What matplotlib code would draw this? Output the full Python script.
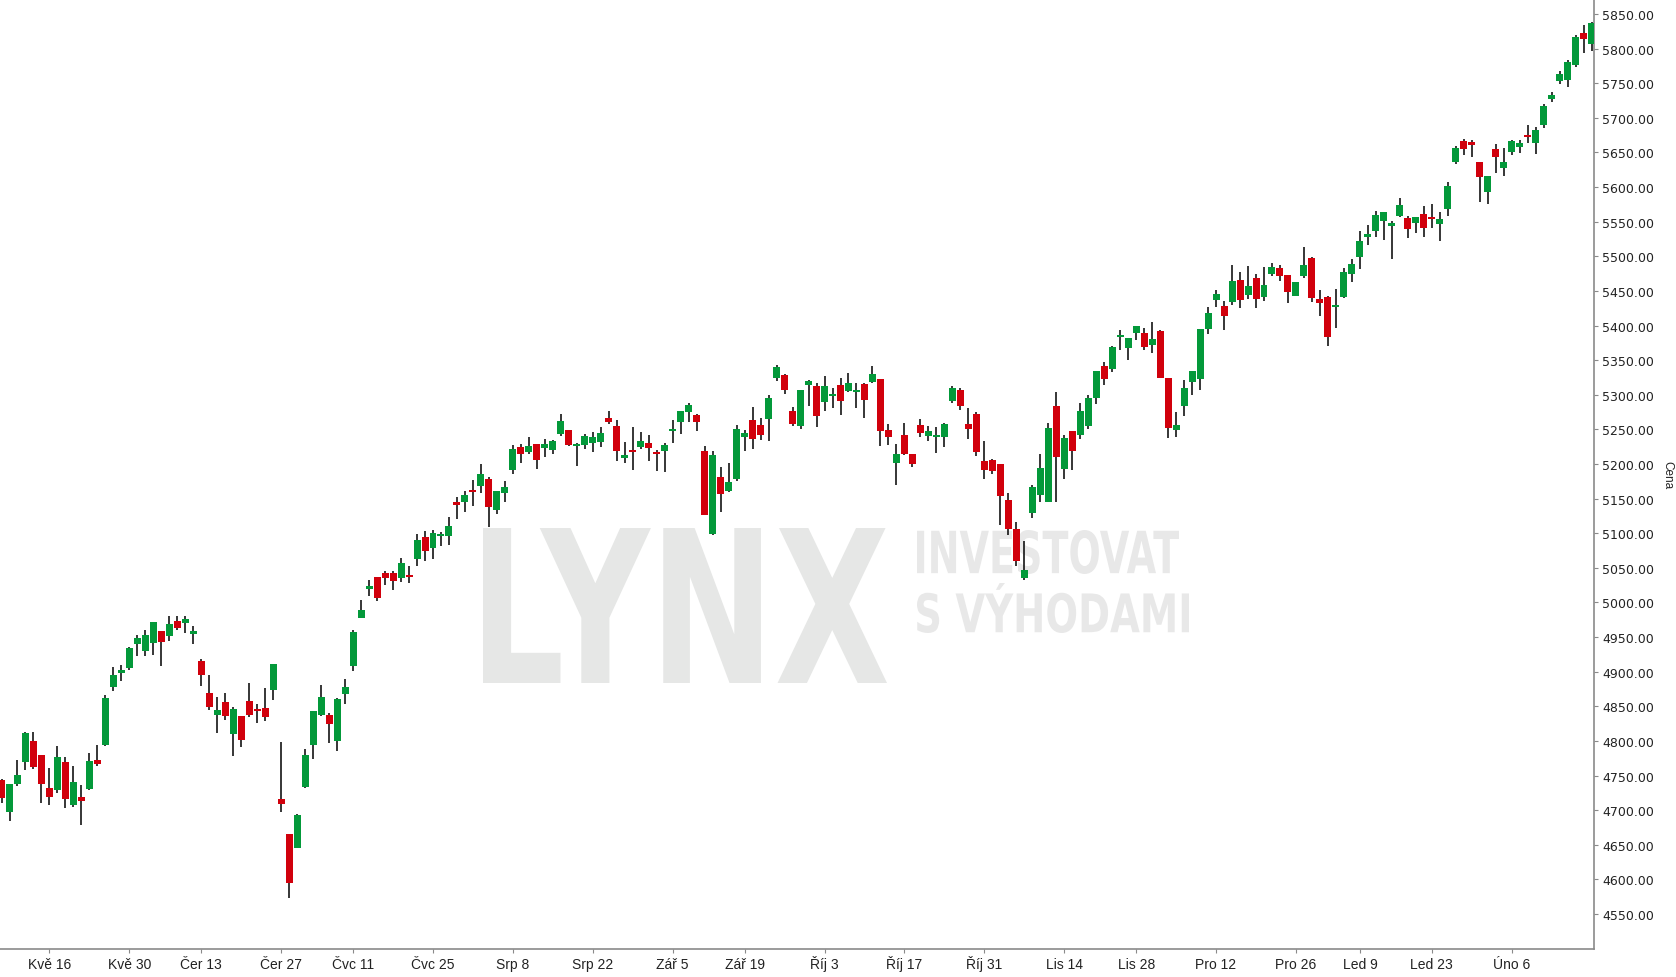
import matplotlib
matplotlib.use("Agg")
import matplotlib.pyplot as plt
from matplotlib.textpath import TextPath
from matplotlib.patches import PathPatch
from matplotlib.font_manager import FontProperties
from matplotlib.transforms import Affine2D
import numpy as np

# daily candles, oldest first
opens = [4743.6, 4697.8, 4738.3, 4770.0, 4799.9, 4779.7, 4732.0, 4729.6, 4769.6, 4707.9,
         4719.0, 4731.0, 4772.4, 4794.6, 4878.4, 4898.6, 4905.8, 4940.0, 4930.4, 4941.9,
         4958.8, 4952.0, 4973.2, 4970.8, 4954.9, 4915.5, 4869.2, 4837.9, 4856.2, 4810.5,
         4836.0, 4857.7, 4846.1, 4847.6, 4874.1, 4716.1, 4665.6, 4645.8, 4733.9, 4794.6,
         4837.9, 4837.5, 4800.4, 4868.3, 4908.7, 4978.1, 5019.9, 5036.8, 5042.6, 5042.6,
         5035.8, 5039.7, 5063.3, 5094.6, 5079.2, 5096.5, 5096.5, 5145.1, 5145.6, 5162.5,
         5168.7, 5178.3, 5134.1, 5158.6, 5191.8, 5224.6, 5217.8, 5228.9, 5223.6, 5220.7,
         5243.8, 5249.1, 5226.5, 5227.9, 5230.8, 5232.2, 5266.4, 5254.9, 5209.1, 5220.7,
         5225.0, 5230.3, 5217.3, 5219.2, 5248.1, 5261.1, 5275.6, 5270.8, 5218.8, 5099.3,
         5181.2, 5161.0, 5178.8, 5239.0, 5263.5, 5256.3, 5265.5, 5324.7, 5328.5, 5276.5,
         5255.4, 5314.6, 5312.7, 5290.0, 5298.7, 5314.1, 5305.9, 5304.5, 5315.5, 5318.9,
         5322.8, 5249.1, 5201.9, 5241.9, 5214.4, 5256.3, 5240.9, 5239.5, 5239.5, 5291.5,
         5306.9, 5257.8, 5272.2, 5204.3, 5205.8, 5200.0, 5148.0, 5106.1, 5035.8, 5129.7,
         5155.7, 5145.6, 5283.8, 5193.2, 5247.7, 5242.3, 5255.3, 5295.8, 5341.5, 5337.7,
         5383.9, 5368.0, 5389.7, 5389.2, 5372.3, 5392.1, 5324.2, 5249.6, 5284.2, 5318.9,
         5323.2, 5395.4, 5437.3, 5428.2, 5434.4, 5465.7, 5444.5, 5468.6, 5441.7, 5474.9,
         5483.1, 5473.0, 5443.1, 5472.0, 5497.5, 5438.3, 5441.2, 5427.2, 5441.7, 5474.9,
         5499.4, 5528.0, 5537.0, 5551.4, 5544.2, 5558.7, 5555.3, 5548.6, 5561.1, 5556.7,
         5547.1, 5568.8, 5636.7, 5666.5, 5665.1, 5636.2, 5593.3, 5655.0, 5628.0, 5651.1,
         5658.3, 5675.2, 5664.1, 5690.0, 5727.0, 5753.0, 5755.0, 5776.0, 5822.0, 5806.0]

highs = [4745.0, 4737.8, 4772.4, 4812.4, 4812.9, 4779.7, 4760.9, 4792.7, 4776.8, 4763.8,
         4736.3, 4782.6, 4794.1, 4866.3, 4906.8, 4909.7, 4935.0, 4953.0, 4960.2, 4971.8,
         4958.8, 4980.5, 4980.5, 4980.5, 4966.0, 4918.3, 4895.2, 4863.5, 4869.2, 4849.0,
         4836.0, 4883.7, 4853.3, 4876.5, 4911.1, 4798.5, 4665.6, 4694.5, 4788.3, 4843.2,
         4880.8, 4840.3, 4862.0, 4889.5, 4960.2, 5003.6, 5032.5, 5036.8, 5045.5, 5045.5,
         5064.2, 5052.7, 5098.9, 5103.2, 5104.7, 5101.8, 5123.5, 5152.3, 5161.0, 5176.9,
         5200.0, 5181.2, 5161.0, 5175.5, 5227.5, 5228.9, 5239.0, 5228.9, 5236.1, 5234.6,
         5272.2, 5249.1, 5230.3, 5243.3, 5246.2, 5253.4, 5276.5, 5263.5, 5231.8, 5253.4,
         5246.2, 5241.9, 5220.2, 5230.3, 5263.5, 5276.5, 5288.1, 5272.2, 5226.0, 5218.8,
         5195.6, 5201.4, 5256.3, 5249.1, 5282.3, 5266.4, 5299.7, 5343.0, 5330.0, 5282.3,
         5306.9, 5321.3, 5317.0, 5327.1, 5309.8, 5324.2, 5331.4, 5317.0, 5317.0, 5341.5,
         5322.8, 5257.8, 5228.9, 5259.2, 5214.4, 5265.0, 5254.9, 5253.4, 5259.2, 5312.7,
         5309.8, 5280.9, 5275.1, 5233.2, 5207.2, 5200.0, 5158.1, 5116.2, 5088.7, 5169.6,
         5214.4, 5259.2, 5304.0, 5241.9, 5247.7, 5288.1, 5299.6, 5334.3, 5347.3, 5370.4,
         5393.5, 5382.0, 5399.3, 5396.4, 5405.1, 5393.5, 5324.2, 5275.1, 5321.3, 5334.3,
         5395.0, 5426.7, 5451.3, 5435.4, 5487.4, 5477.3, 5486.0, 5474.4, 5484.5, 5490.3,
         5487.4, 5473.0, 5462.8, 5513.4, 5499.0, 5451.3, 5442.6, 5452.7, 5483.1, 5496.1,
         5536.5, 5545.0, 5565.0, 5564.0, 5551.0, 5584.2, 5558.2, 5556.7, 5572.6, 5575.5,
         5564.0, 5607.3, 5659.3, 5669.4, 5668.0, 5636.2, 5616.0, 5662.2, 5656.4, 5668.0,
         5668.0, 5689.6, 5686.7, 5720.0, 5737.0, 5768.0, 5783.0, 5820.0, 5834.0, 5839.0]

lows = [4710.0, 4684.8, 4735.4, 4758.5, 4759.9, 4710.8, 4707.9, 4725.3, 4703.6, 4705.0,
        4679.0, 4729.6, 4764.3, 4793.2, 4872.6, 4887.0, 4903.0, 4923.2, 4923.2, 4924.6,
        4908.7, 4944.8, 4960.7, 4956.4, 4940.5, 4879.8, 4845.2, 4811.9, 4830.7, 4778.7,
        4791.7, 4835.1, 4826.4, 4829.3, 4859.6, 4697.8, 4573.6, 4645.8, 4732.5, 4774.4,
        4836.5, 4797.5, 4785.9, 4853.3, 4901.5, 4978.1, 5009.8, 5002.6, 5025.7, 5018.5,
        5030.0, 5028.6, 5053.2, 5060.4, 5063.3, 5082.0, 5083.5, 5121.1, 5131.2, 5139.8,
        5158.6, 5109.5, 5128.3, 5145.6, 5186.1, 5201.9, 5214.9, 5193.3, 5210.6, 5214.9,
        5240.9, 5226.5, 5197.6, 5222.1, 5217.8, 5225.0, 5257.8, 5204.8, 5201.9, 5191.8,
        5222.1, 5204.8, 5190.3, 5188.9, 5230.8, 5243.8, 5261.1, 5248.1, 5126.8, 5097.9,
        5131.1, 5159.5, 5175.9, 5219.2, 5222.1, 5235.1, 5233.7, 5320.4, 5301.6, 5255.4,
        5251.0, 5284.2, 5253.9, 5277.0, 5281.4, 5271.2, 5304.5, 5281.4, 5266.9, 5317.5,
        5226.5, 5227.9, 5170.1, 5213.5, 5196.1, 5239.5, 5233.7, 5216.4, 5225.0, 5288.6,
        5278.5, 5236.6, 5212.0, 5178.8, 5186.0, 5112.3, 5097.9, 5053.1, 5033.0, 5122.5,
        5145.6, 5145.6, 5145.6, 5178.8, 5191.8, 5236.6, 5251.0, 5287.1, 5314.6, 5333.3,
        5364.6, 5350.7, 5379.6, 5365.1, 5360.8, 5324.7, 5238.0, 5239.4, 5269.8, 5300.1,
        5307.3, 5388.2, 5427.2, 5394.0, 5430.1, 5425.8, 5438.8, 5425.8, 5435.9, 5472.0,
        5464.8, 5433.0, 5443.1, 5469.1, 5434.4, 5414.2, 5370.9, 5396.9, 5440.2, 5463.3,
        5482.1, 5517.0, 5528.0, 5524.0, 5496.6, 5557.2, 5526.9, 5534.1, 5528.3, 5541.3,
        5522.6, 5558.7, 5633.8, 5646.8, 5643.9, 5578.9, 5576.0, 5620.8, 5616.4, 5646.8,
        5649.7, 5664.1, 5648.2, 5686.0, 5723.0, 5749.0, 5745.0, 5774.0, 5793.0, 5797.0]

closes = [4718.0, 4737.8, 4750.8, 4811.5, 4762.8, 4738.3, 4719.5, 4776.8, 4716.6, 4740.7,
          4713.7, 4771.0, 4767.1, 4862.0, 4895.2, 4902.5, 4934.2, 4948.7, 4953.0, 4971.8,
          4943.4, 4968.9, 4963.6, 4976.1, 4958.8, 4895.7, 4849.5, 4844.7, 4836.5, 4846.1,
          4801.8, 4837.9, 4843.2, 4835.1, 4911.1, 4709.4, 4595.3, 4693.0, 4779.7, 4843.2,
          4863.5, 4824.9, 4860.6, 4877.9, 4957.4, 4989.1, 5023.8, 5006.9, 5035.8, 5031.5,
          5057.0, 5037.3, 5090.2, 5074.8, 5100.3, 5099.4, 5110.5, 5141.3, 5155.2, 5160.1,
          5185.6, 5138.4, 5161.0, 5166.8, 5221.7, 5214.9, 5226.0, 5206.3, 5228.9, 5233.7,
          5262.1, 5227.9, 5228.9, 5240.4, 5239.0, 5244.8, 5260.6, 5219.2, 5213.5, 5217.8,
          5233.2, 5223.6, 5214.9, 5227.4, 5250.5, 5276.5, 5285.2, 5261.1, 5126.8, 5213.0,
          5157.1, 5174.0, 5250.5, 5244.8, 5236.6, 5242.4, 5295.3, 5340.1, 5307.4, 5258.2,
          5306.9, 5319.9, 5269.8, 5312.7, 5301.1, 5291.5, 5317.0, 5306.9, 5292.9, 5330.0,
          5248.1, 5239.5, 5214.4, 5214.9, 5200.5, 5245.2, 5247.7, 5241.9, 5257.8, 5309.8,
          5284.2, 5251.0, 5217.8, 5191.8, 5190.4, 5154.2, 5106.6, 5060.3, 5046.8, 5166.8,
          5194.2, 5252.0, 5210.6, 5237.5, 5219.2, 5276.5, 5295.3, 5334.3, 5323.2, 5369.0,
          5386.3, 5382.0, 5399.3, 5369.4, 5380.5, 5324.7, 5252.4, 5256.3, 5309.7, 5334.3,
          5395.0, 5418.1, 5445.5, 5414.2, 5464.3, 5437.3, 5457.1, 5438.8, 5458.5, 5484.5,
          5472.0, 5448.9, 5462.8, 5487.4, 5440.2, 5433.0, 5383.9, 5429.6, 5477.3, 5488.8,
          5522.1, 5532.0, 5560.0, 5564.0, 5548.1, 5574.1, 5539.9, 5556.7, 5541.3, 5554.3,
          5553.8, 5601.5, 5656.4, 5655.4, 5661.2, 5615.0, 5616.0, 5643.9, 5636.2, 5666.5,
          5663.6, 5672.8, 5682.4, 5717.0, 5733.0, 5763.0, 5781.0, 5817.0, 5814.0, 5837.0]

# date labels and the candle they sit under
tick_idx = [6, 16, 25, 35, 44, 54, 64, 74, 84, 93,
            103, 113, 123, 133, 142, 152, 162, 170, 179, 189]
tick_labels = ["Kvě 16", "Kvě 30", "Čer 13", "Čer 27", "Čvc 11", "Čvc 25", "Srp 8", "Srp 22",
               "Zář 5", "Zář 19", "Říj 3", "Říj 17", "Říj 31", "Lis 14", "Lis 28", "Pro 12",
               "Pro 26", "Led 9", "Led 23", "Úno 6"]
price_ticks = list(range(4550, 5851, 50))

GREEN = "#03993a"
RED = "#d1000c"
W, H = 1676, 978

fig = plt.figure(figsize=(W / 100, H / 100), dpi=100)
fig.patch.set_facecolor("white")
ax = fig.add_axes([0, 1 - 950 / H, 1594 / W, 950 / H])
ax.patch.set_alpha(0)


# watermark text stretched into a pixel box (top-left origin)
def stamp(text, x0, y0, x1, y1, color):
    prop = FontProperties(family="DejaVu Sans", weight="bold")
    tp = TextPath((0, 0), text, size=100, prop=prop)
    ext = tp.get_extents()
    sx = (x1 - x0) / W / ext.width
    sy = (y1 - y0) / H / ext.height
    tr = (Affine2D().translate(-ext.x0, -ext.y0).scale(sx, sy)
          .translate(x0 / W, 1 - y1 / H) + fig.transFigure)
    fig.patches.append(PathPatch(tp, transform=tr, facecolor=color,
                                 edgecolor="none", zorder=-5))


stamp("LYNX", 483, 529, 887, 684, "#e6e7e6")
stamp("INVESTOVAT", 917, 531, 1179, 575, "#e8e8e8")
stamp("S VÝHODAMI", 917, 584, 1189, 634, "#e8e8e8")

o = np.array(opens)
c = np.array(closes)
x = np.arange(len(o))
up = c >= o
colors = np.where(up, GREEN, RED)
bottom = np.minimum(o, c)
height = np.maximum(np.abs(c - o), 2.0)

ax.vlines(x, lows, highs, color="black", linewidth=1.1, zorder=2)
ax.bar(x, height, bottom=bottom, width=0.875, color=colors, linewidth=0, zorder=3)

ax.set_xlim(-0.19, 199.3)
ax.set_ylim(4499.4, 5871.7)

ax.yaxis.tick_right()
ax.yaxis.set_label_position("right")
ax.set_yticks(price_ticks)
ax.set_yticklabels([f"{v:.2f}" for v in price_ticks], fontsize=9, color="#222222",
                   family="DejaVu Sans")
ax.set_ylabel("Cena", rotation=270, fontsize=8.5, color="#222222", labelpad=14,
              family="Liberation Sans")
ax.set_xticks(tick_idx)
ax.set_xticklabels(tick_labels, fontsize=10, color="#222222", family="Liberation Sans")
ax.tick_params(axis="both", direction="out", length=3, width=0.8, color="#8a8a8a", pad=3)
ax.tick_params(axis="x", pad=10.5)
# keep all date labels on one baseline, accents or not
for lab in ax.get_xticklabels():
    lab.set_verticalalignment("baseline")

for s in ["top", "left"]:
    ax.spines[s].set_visible(False)
for s in ["right", "bottom"]:
    ax.spines[s].set_color("#8a8a8a")
    ax.spines[s].set_linewidth(1.2)

fig.savefig("out.png", dpi=100, facecolor="white")
